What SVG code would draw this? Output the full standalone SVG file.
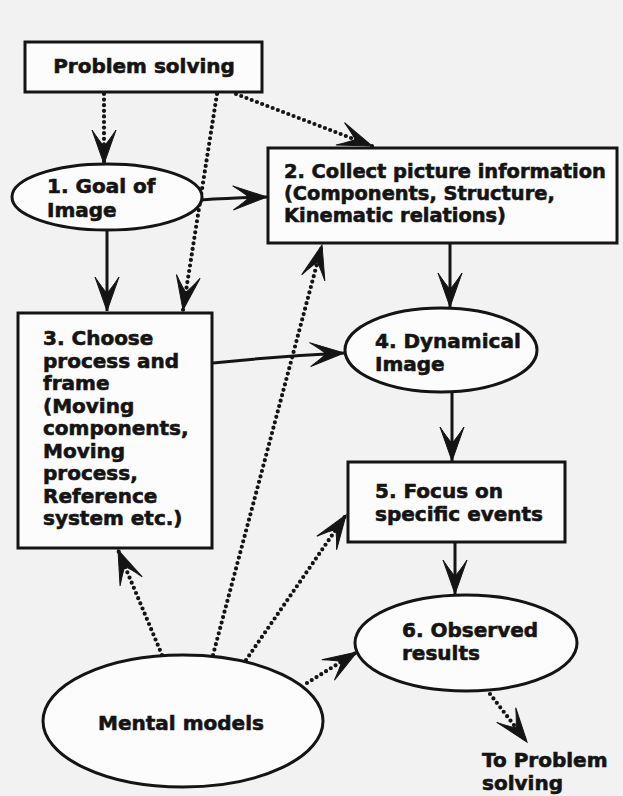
<svg xmlns="http://www.w3.org/2000/svg" width="623" height="796" viewBox="0 0 623 796">
<style>
.bg{fill:#f2f2f2}
.node{fill:#fcfcfc;stroke:#141414;stroke-width:3}
.t{font-family:"DejaVu Sans",sans-serif;font-weight:bold;font-size:20px;fill:#141414;stroke:#141414;stroke-width:0.6}
.t2{font-size:19.4px}
.solid{fill:none;stroke:#141414;stroke-width:3;marker-end:url(#ah)}
.dot{fill:none;stroke:#141414;stroke-width:4.2;stroke-linecap:round;stroke-dasharray:0 5.6;marker-end:url(#ah)}
</style>
<defs>
<marker id="ah" viewBox="-38 -15 40 30" refX="0" refY="0" markerWidth="40" markerHeight="30" markerUnits="userSpaceOnUse" orient="auto">
<path d="M0,0 L-34,-12 Q-22,-4 -18,0 Q-22,4 -34,12 Z" fill="#141414" stroke="#141414" stroke-width="1"/>
</marker>
</defs>
<rect class="bg" x="0" y="0" width="623" height="796"/>

<g id="connectors">
<path class="dot" d="M104,94 L104,164"/>
<path class="dot" d="M217,94 L183,310"/>
<path class="dot" d="M236,94 L372,146"/>
<path class="solid" d="M201,200 Q230,198 267,197"/>
<path class="solid" d="M107,231 L107,311"/>
<path class="solid" d="M450,244 L450,307"/>
<path class="solid" d="M213,363 Q280,356 344,353"/>
<path class="solid" d="M452,393 L452,461"/>
<path class="solid" d="M455,543 L455,594"/>
<path class="dot" d="M162,655 L118,550"/>
<path class="dot" d="M213,655 L322,245"/>
<path class="dot" d="M246,660 L346,515"/>
<path class="dot" d="M307,683 L357,652"/>
<path class="dot" d="M490,694 L527,742"/>
</g>

<g id="problem-solving">
<rect class="node" x="25" y="42" width="237" height="50"/>
<text class="t" x="144" y="73" text-anchor="middle">Problem solving</text>
</g>

<g id="goal-of-image">
<ellipse class="node" cx="107" cy="197" rx="95" ry="33"/>
<text class="t" x="47" y="193">1. Goal of</text>
<text class="t" x="47" y="217">Image</text>
</g>

<g id="collect-picture-information">
<rect class="node" x="268" y="148" width="349" height="95"/>
<text class="t t2" x="284" y="178">2. Collect picture information</text>
<text class="t t2" x="284" y="200">(Components, Structure,</text>
<text class="t t2" x="284" y="222">Kinematic relations)</text>
</g>

<g id="choose-process-and-frame">
<rect class="node" x="18" y="313" width="194" height="235"/>
<text class="t" x="43" y="345">3. Choose</text>
<text class="t" x="43" y="367.5">process and</text>
<text class="t" x="43" y="390">frame</text>
<text class="t" x="43" y="412.5">(Moving</text>
<text class="t" x="43" y="435">components,</text>
<text class="t" x="43" y="457.5">Moving</text>
<text class="t" x="43" y="480">process,</text>
<text class="t" x="43" y="502.5">Reference</text>
<text class="t" x="43" y="525">system etc.)</text>
</g>

<g id="dynamical-image">
<ellipse class="node" cx="441" cy="350" rx="96" ry="42"/>
<text class="t" x="375" y="348">4. Dynamical</text>
<text class="t" x="375" y="371">Image</text>
</g>

<g id="focus-on-specific-events">
<rect class="node" x="348" y="462" width="217" height="80"/>
<text class="t" x="375" y="498">5. Focus on</text>
<text class="t" x="375" y="521">specific events</text>
</g>

<g id="observed-results">
<ellipse class="node" cx="466" cy="643" rx="111" ry="48"/>
<text class="t" x="402" y="637">6. Observed</text>
<text class="t" x="402" y="660">results</text>
</g>

<g id="mental-models">
<ellipse class="node" cx="183" cy="721" rx="140" ry="66"/>
<text class="t" x="181" y="730" text-anchor="middle">Mental models</text>
</g>

<g id="to-problem-solving">
<text class="t" x="482" y="767">To Problem</text>
<text class="t" x="482" y="790">solving</text>
</g>
</svg>
